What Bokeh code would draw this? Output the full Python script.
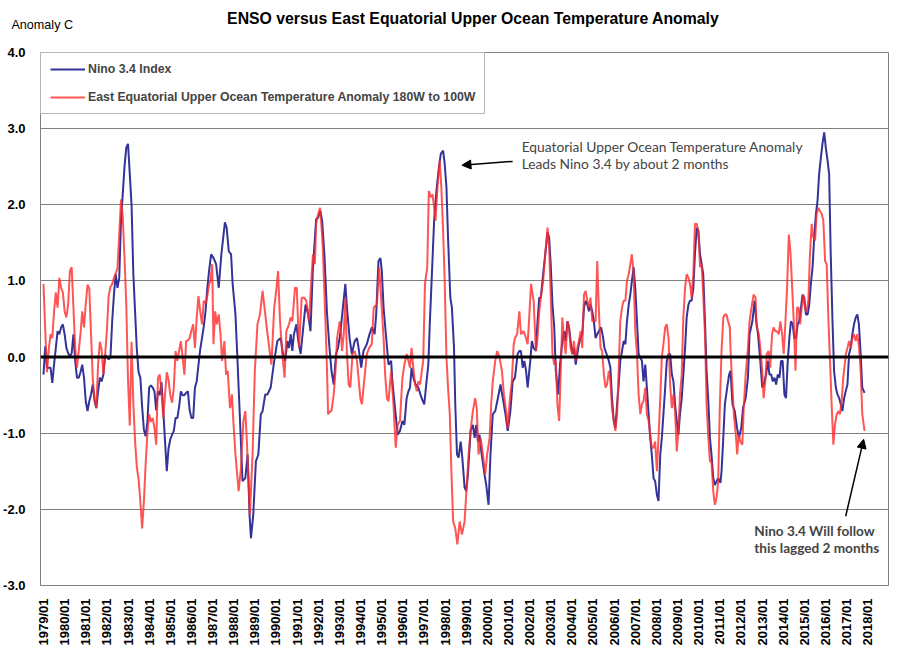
import math
from bokeh.plotting import figure
from bokeh.models import (ColumnDataSource, FixedTicker, NumeralTickFormatter, Span, Label,
                          Arrow, NormalHead, Legend, LegendItem)
from bokeh.embed import file_html
from bokeh.resources import INLINE

TITLE = "ENSO versus East Equatorial Upper Ocean Temperature Anomaly"
Y_LABEL = "Anomaly C"
NAME_NINO = "Nino 3.4 Index"
NAME_OCEAN = "East Equatorial Upper Ocean Temperature Anomaly 180W to 100W"
NOTE_LEAD = ["Equatorial Upper Ocean Temperature  Anomaly", "Leads Nino 3.4 by about 2 months"]
NOTE_LAG = ["Nino 3.4 Will follow", "this lagged 2 months"]

TICK_LABELS = ["1979/01", "1980/01", "1981/01", "1982/01", "1983/01", "1984/01", "1985/01",
               "1986/01", "1987/01", "1988/01", "1989/01", "1990/01", "1991/01", "1992/01",
               "1993/01", "1994/01", "1995/01", "1996/01", "1997/01", "1998/01", "1999/01",
               "2000/01", "2001/01", "2002/01", "2003/01", "2004/01", "2005/01", "2006/01",
               "2007/01", "2008/01", "2009/01", "2010/01", "2011/01", "2012/01", "2013/01",
               "2014/01", "2015/01", "2016/01", "2017/01", "2018/01"]
Y_TICKS = [-3, -2, -1, 0, 1, 2, 3, 4]

# time axis: months since 1979/01
# Nino 3.4, monthly 1979/01 .. 1986/11
NINO_1979_1986 = [-0.23, 0.14, -0.14, -0.14, -0.14, -0.34, -0.10, 0.12, 0.34, 0.30,
                  0.39, 0.43, 0.30, 0.12, 0.05, 0.01, 0.05, 0.30, -0.05, -0.27,
                  -0.27, -0.20, -0.10, -0.27, -0.58, -0.71, -0.58, -0.49, -0.36, -0.58,
                  -0.67, -0.45, -0.27, -0.32, -0.23, 0.03, 0.00, -0.03, -0.01, 0.47,
                  0.82, 1.09, 0.91, 1.04, 1.79, 2.14, 2.50, 2.75, 2.80, 2.40,
                  2.00, 1.10, 0.60, 0.10, -0.20, -0.27, -0.65, -0.95, -1.04, -0.85,
                  -0.40, -0.37, -0.40, -0.45, -0.70, -0.45, -0.50, -0.33, -0.70, -1.10,
                  -1.50, -1.20, -1.08, -1.02, -0.97, -0.80, -0.80, -0.65, -0.45, -0.50,
                  -0.50, -0.47, -0.45, -0.70, -0.80, -0.80, -0.40, -0.32, -0.10, 0.10,
                  0.25, 0.40, 0.60, 0.90, 1.13]
NINO_1987_1994 = [(95.2, 1.35), (96.6, 1.30), (98.0, 1.22), (99.5, 0.91), (101.0, 1.35), (103.0, 1.77),
                  (104.0, 1.70), (105.2, 1.39), (106.5, 1.35), (107.4, 0.96), (109.0, 0.56), (110.0, 0.04),
                  (111.6, -0.84), (113.0, -1.63), (114.6, -1.59), (115.9, -1.28), (117.0, -2.07), (117.8, -2.38),
                  (119.1, -2.07), (120.6, -1.37), (122.0, -1.28), (123.4, -0.75), (124.4, -0.71), (125.9, -0.49),
                  (127.2, -0.49), (129.0, -0.40), (131.0, -0.05), (132.8, 0.21), (134.7, 0.25), (136.0, 0.04),
                  (137.2, -0.05), (138.5, 0.21), (139.4, 0.12), (140.4, 0.30), (141.3, 0.08), (142.2, 0.30),
                  (143.6, 0.43), (144.7, 0.21), (146.0, 0.04), (147.5, 0.39), (148.8, 0.69), (150.3, 0.56),
                  (151.6, 0.34), (152.9, 1.13), (154.8, 1.81), (155.9, 1.83), (157.2, 1.92), (158.2, 1.79),
                  (159.5, 1.35), (161.0, 0.56), (162.4, 0.12), (163.5, -0.18), (164.8, -0.36), (166.1, 0.04),
                  (167.2, 0.12), (168.5, 0.30), (170.0, 0.65), (171.4, 0.96), (172.3, 0.65), (173.8, 0.25),
                  (175.1, 0.04), (176.7, 0.21), (178.0, 0.25), (178.9, 0.12), (180.4, -0.14), (181.7, 0.08),
                  (183.6, 0.17), (185.1, 0.30), (186.5, 0.39), (188.0, 0.30), (188.9, 0.56), (190.2, 1.26),
                  (191.3, 1.30)]
NINO_1995_2002 = [(192.1, 1.13), (193.1, 0.65), (194.4, 0.30), (195.9, -0.10), (197.4, -0.05), (198.1, -0.32),
                  (199.6, -0.67), (201.1, -1.02), (202.4, -0.97), (203.8, -0.84), (204.9, -0.89), (206.2, -0.54),
                  (207.2, -0.45), (208.1, -0.40), (209.0, -0.14), (210.0, -0.27), (211.3, -0.36), (212.8, -0.40),
                  (214.7, -0.54), (216.2, -0.62), (217.5, -0.32), (218.5, -0.10), (219.4, 0.47), (220.7, 1.18),
                  (221.8, 1.79), (223.1, 2.18), (224.5, 2.49), (225.6, 2.67), (226.9, 2.71), (227.8, 2.54),
                  (228.8, 2.23), (229.7, 1.57), (231.0, 0.78), (231.9, 0.65), (233.1, 0.12), (233.8, -0.62),
                  (234.8, -1.28), (235.7, -1.32), (236.9, -1.11), (237.8, -1.32), (239.1, -1.71), (240.0, -1.76),
                  (241.0, -1.54), (242.5, -0.97), (243.8, -0.89), (244.8, -1.06), (245.7, -0.89), (246.7, -1.11),
                  (247.6, -1.02), (248.6, -1.24), (250.4, -1.54), (251.4, -1.68), (252.7, -1.94), (253.8, -1.28),
                  (255.1, -0.75), (256.5, -0.71), (258.0, -0.54), (259.5, -0.36), (260.8, -0.54), (262.3, -0.75),
                  (263.6, -0.97), (265.1, -0.71), (266.4, -0.32), (267.7, -0.27), (269.2, 0.04), (270.2, 0.08),
                  (271.1, 0.08), (272.1, -0.14), (273.0, -0.05), (274.0, -0.18), (274.9, -0.40), (276.4, -0.05),
                  (277.3, 0.21), (278.3, 0.12), (279.6, 0.08), (280.5, 0.47), (281.5, 0.78), (282.4, 0.78),
                  (283.7, 1.09), (284.9, 1.35), (286.2, 1.64)]
NINO_2003_2010 = [(287.1, 1.57), (288.0, 1.22), (289.0, 0.69), (290.0, 0.39), (290.9, -0.18), (292.2, -0.49),
                  (293.3, -0.10), (294.6, 0.21), (295.6, 0.34), (296.5, 0.21), (297.5, 0.47), (298.4, 0.39),
                  (299.3, 0.21), (300.3, 0.04), (301.2, 0.12), (302.2, -0.10), (303.1, 0.04), (304.0, 0.17),
                  (305.0, 0.25), (305.9, 0.30), (306.9, 0.65), (307.8, 0.74), (308.8, 0.69), (309.7, 0.60),
                  (310.6, 0.69), (311.6, 0.60), (312.5, 0.47), (313.5, 0.25), (314.4, 0.30), (315.3, 0.34),
                  (316.6, 0.39), (317.8, 0.25), (318.5, 0.12), (319.7, 0.04), (321.0, -0.05), (321.9, -0.14),
                  (322.8, -0.54), (323.8, -0.84), (324.7, -0.93), (325.7, -0.62), (326.6, -0.36), (327.5, -0.05),
                  (328.5, 0.08), (329.4, 0.21), (330.4, 0.17), (331.3, 0.47), (332.3, 0.69), (333.2, 0.82),
                  (334.1, 1.00), (335.1, 1.18), (336.0, 0.91), (337.0, 0.47), (337.9, 0.04), (338.9, -0.01),
                  (339.8, -0.05), (340.7, -0.32), (341.7, -0.10), (342.6, -0.40), (343.6, -0.75), (344.5, -1.06),
                  (345.4, -1.28), (346.4, -1.59), (347.3, -1.63), (348.3, -1.81), (349.2, -1.89), (350.2, -1.28),
                  (351.1, -1.06), (352.0, -0.75), (353.0, -0.40), (353.9, -0.05), (354.9, 0.04), (355.8, 0.04),
                  (356.8, -0.23), (357.7, -0.32), (358.6, -0.62), (359.6, -0.84), (360.5, -1.02), (361.4, -0.75),
                  (362.4, -0.54), (363.3, -0.23), (364.3, 0.12), (365.2, 0.52), (366.2, 0.69), (367.1, 0.74),
                  (368.0, 0.74), (369.0, 0.91), (369.9, 1.35), (370.9, 1.70), (371.8, 1.66), (372.8, 1.35),
                  (373.7, 1.22), (374.6, 1.09), (375.6, 0.47), (376.5, -0.18), (377.5, -0.58), (378.4, -1.06),
                  (379.3, -1.28), (380.3, -1.59), (381.2, -1.68), (382.2, -1.63)]
NINO_2011_2017 = [(383.1, -1.59), (384.4, -1.65), (385.0, -1.50), (386.0, -1.06), (386.9, -0.62), (388.2, -0.40),
                  (389.3, -0.23), (390.1, -0.18), (391.2, -0.62), (392.5, -0.71), (393.8, -0.93), (394.9, -1.06),
                  (396.2, -0.93), (397.2, -0.67), (398.7, -0.54), (400.0, -0.27), (400.9, 0.30), (402.5, 0.47),
                  (403.8, 0.74), (404.7, 0.47), (405.7, 0.30), (407.0, -0.05), (408.1, -0.40), (409.0, -0.36),
                  (410.3, -0.23), (411.3, -0.05), (412.2, -0.23), (413.2, -0.23), (414.1, -0.32), (415.1, -0.27),
                  (416.0, -0.36), (416.9, -0.23), (417.9, -0.27), (418.8, -0.05), (419.7, -0.05), (420.7, -0.49),
                  (421.6, -0.54), (422.6, -0.05), (423.5, 0.25), (424.4, 0.47), (425.4, 0.43), (426.3, 0.25),
                  (427.3, 0.25), (428.2, 0.43), (429.1, 0.47), (430.1, 0.65), (431.0, 0.82), (432.0, 0.78),
                  (432.9, 0.56), (433.9, 0.56), (434.8, 0.69), (435.7, 0.96), (436.7, 1.18), (437.6, 1.57),
                  (438.6, 1.88), (439.5, 2.05), (440.4, 2.40), (441.4, 2.62), (442.3, 2.80), (443.3, 2.95),
                  (444.2, 2.75), (445.2, 2.58), (446.1, 2.40), (447.0, 1.35), (448.0, 0.47), (448.9, -0.18),
                  (449.9, -0.40), (450.8, -0.49), (451.8, -0.54), (452.7, -0.62), (453.6, -0.71), (454.6, -0.54),
                  (455.5, -0.45), (456.5, -0.36), (457.4, 0.04), (458.3, 0.12), (459.3, 0.30), (460.2, 0.43),
                  (461.2, 0.52), (462.1, 0.56), (463.0, 0.43), (464.0, 0.04), (464.9, -0.40), (466.2, -0.47)]

# East Equatorial upper ocean temperature anomaly, monthly 1979/01 .. 1986/11
OCEAN_1979_1986 = [0.96, 0.35, -0.20, 0.10, 0.30, 0.25, 0.60, 0.85, 0.65, 1.04,
                   0.91, 0.85, 0.60, 0.52, 0.69, 1.13, 1.18, 0.65, 0.12, -0.14,
                   0.08, 0.30, 0.60, 0.39, 0.70, 0.95, 0.90, 0.30, -0.30, -0.55,
                   -0.67, -0.10, 0.20, 0.10, -0.23, 0.03, 0.35, 0.80, 0.92, 0.96,
                   1.04, 1.10, 1.17, 1.60, 2.07, 1.85, 1.30, 0.70, -0.30, -0.90,
                   0.20, -0.60, -1.10, -1.45, -1.60, -1.90, -2.25, -1.90, -1.40, -1.00,
                   -0.75, -0.85, -0.80, -0.93, -1.15, -0.27, -0.23, -0.45, -0.80, -0.50,
                   -0.20, -0.30, -0.50, -0.60, -0.40, 0.08, -0.05, 0.08, 0.21, 0.00,
                   -0.23, 0.21, 0.22, 0.25, 0.35, 0.43, 0.12, 0.52, 0.80, 0.60,
                   0.43, 0.74, 0.70, 0.80, 0.95]
OCEAN_1987_1994 = [(94.8, 1.00), (95.8, 1.22), (96.5, 0.17), (97.5, 0.60), (98.4, 0.43), (99.5, 0.56),
                   (100.5, 0.30), (101.4, -0.05), (102.7, 0.21), (103.7, -0.23), (104.6, -0.18), (105.9, -0.67),
                   (107.0, -0.49), (107.8, -0.84), (109.0, -1.28), (110.8, -1.76), (112.1, -1.46), (113.5, -0.84),
                   (114.6, -0.71), (115.5, -1.11), (117.2, -2.07), (118.7, -1.28), (120.0, -0.18), (121.5, 0.43),
                   (122.9, 0.56), (124.4, 0.87), (125.3, 0.69), (127.2, 0.30), (129.4, -0.10), (131.0, 0.65),
                   (131.9, 0.82), (133.2, 1.13), (134.3, 0.47), (135.6, 0.04), (136.9, -0.27), (137.9, 0.34),
                   (139.4, 0.43), (140.3, 0.52), (141.3, 0.47), (142.8, 0.91), (143.8, 0.91), (145.1, 0.12),
                   (146.6, 0.78), (147.9, 0.78), (149.2, 0.74), (150.7, 0.47), (153.0, 1.35), (154.1, 1.22),
                   (154.8, 1.75), (156.0, 1.88), (157.0, 1.96), (157.9, 1.70), (158.6, 1.44), (160.1, 0.47),
                   (161.0, -0.18), (161.6, -0.75), (162.9, -0.71), (163.5, -0.71), (164.8, -0.49), (165.8, -0.18),
                   (166.7, 0.25), (168.2, 0.47), (169.0, 0.30), (169.5, 0.08), (170.5, 0.30), (171.4, 0.78),
                   (172.3, 0.04), (173.3, -0.36), (174.2, -0.40), (175.5, 0.04), (176.7, 0.08), (178.0, -0.05),
                   (179.9, -0.54), (180.8, -0.62), (181.7, -0.40), (183.6, 0.04), (184.9, 0.12), (186.4, 0.17),
                   (187.5, 0.65), (189.3, 0.69), (190.6, 1.18)]
OCEAN_1995_2002 = [(191.7, 0.78), (193.1, 0.25), (194.0, -0.23), (195.0, -0.54), (195.9, -0.58), (197.4, -0.18),
                   (198.7, -0.62), (200.0, -1.19), (201.1, -0.89), (202.4, -0.84), (203.8, -0.27), (204.9, -0.10),
                   (206.2, 0.04), (207.2, -0.05), (208.1, -0.14), (209.0, 0.12), (210.0, -0.14), (211.0, -0.36),
                   (212.0, -0.45), (212.8, -0.32), (213.8, -0.36), (215.6, -0.05), (216.6, 0.96), (217.9, 1.18),
                   (218.8, 2.18), (219.9, 2.10), (220.9, 2.14), (221.8, 1.96), (222.6, 1.79), (223.7, 2.23),
                   (225.0, 2.58), (225.9, 2.23), (226.9, 1.66), (227.8, 1.00), (228.8, 0.00), (229.7, -0.40),
                   (230.7, -0.75), (231.6, -1.50), (232.6, -2.16), (233.8, -2.25), (235.0, -2.46), (236.3, -2.16),
                   (237.6, -2.33), (239.1, -2.16), (240.0, -1.81), (241.4, -1.28), (242.5, -0.97), (243.8, -0.71),
                   (245.1, -0.54), (246.0, -0.67), (247.0, -1.28), (248.2, -1.06), (249.5, -1.28), (250.8, -1.54),
                   (251.9, -1.28), (253.3, -1.06), (254.2, -0.62), (255.1, -0.32), (256.5, -0.05), (257.6, 0.08),
                   (258.9, 0.00), (260.3, -0.18), (261.4, -0.49), (262.7, -0.71), (263.6, -0.93), (264.7, -0.58),
                   (265.9, -0.32), (267.0, 0.17), (267.7, 0.25), (268.9, 0.30), (270.2, 0.60), (271.1, 0.30),
                   (272.6, 0.34), (274.0, 0.25), (274.9, 0.17), (275.8, 0.52), (276.8, 0.96), (278.3, 0.74),
                   (279.6, 0.08), (280.5, 0.25), (281.5, 0.60), (282.4, 0.78), (283.7, 1.00), (284.9, 1.35),
                   (286.2, 1.70)]
OCEAN_2003_2010 = [(287.1, 1.44), (288.0, 0.82), (289.0, 0.04), (290.0, -0.10), (290.9, -0.05), (291.8, -0.62),
                   (292.8, -0.84), (293.7, -0.18), (294.6, 0.52), (295.6, 0.21), (296.5, 0.04), (297.5, 0.47),
                   (298.4, 0.39), (299.3, 0.12), (300.3, 0.04), (301.2, 0.21), (302.2, -0.05), (303.1, 0.12),
                   (304.0, 0.21), (305.0, 0.34), (305.9, 0.12), (306.9, 0.82), (307.8, 0.87), (308.8, 0.74),
                   (309.7, 0.65), (310.6, 0.78), (311.6, 0.47), (313.5, 0.47), (314.4, 1.26), (315.3, 0.65),
                   (316.3, 0.12), (317.2, 0.08), (318.2, -0.23), (319.1, -0.40), (320.0, -0.36), (321.0, -0.18),
                   (321.9, -0.32), (322.8, -0.67), (323.8, -0.84), (324.7, -0.97), (325.7, -0.75), (326.6, -0.18),
                   (327.5, 0.47), (328.5, 0.65), (329.4, 0.74), (330.4, 0.74), (331.3, 1.00), (332.3, 1.09),
                   (333.2, 1.22), (334.1, 1.35), (335.1, 1.09), (336.0, 0.34), (337.0, 0.04), (337.9, -0.49),
                   (338.9, -0.75), (339.8, -0.62), (340.7, -0.58), (341.7, -0.40), (342.6, -0.75), (343.6, -0.84),
                   (344.5, -1.02), (345.4, -1.19), (346.4, -1.19), (347.3, -1.11), (348.3, -1.50), (349.2, -1.06),
                   (350.2, -0.54), (351.1, 0.00), (352.0, 0.17), (353.0, 0.39), (353.9, 0.43), (354.9, 0.25),
                   (355.8, -0.36), (356.8, -0.67), (357.7, -0.49), (358.6, -0.71), (359.6, -1.24), (360.5, -0.97),
                   (361.4, -0.49), (362.4, -0.23), (363.3, 0.52), (364.3, 0.91), (365.2, 1.09), (366.2, 1.04),
                   (367.1, 0.96), (368.0, 0.78), (369.0, 1.09), (369.9, 1.75), (370.9, 1.75), (371.8, 1.66),
                   (372.8, 1.18), (373.7, 1.22), (374.6, 0.82), (375.6, 0.30), (376.5, -0.62), (377.5, -1.06),
                   (378.4, -1.37), (379.3, -1.37), (380.3, -1.76), (381.2, -1.94), (382.2, -1.84)]
OCEAN_2011_2017 = [(383.1, -1.63), (384.0, -0.67), (385.0, 0.08), (386.0, 0.52), (386.9, 0.56), (387.8, 0.56),
                   (388.7, 0.47), (389.7, 0.39), (390.2, 0.04), (391.2, -0.40), (392.0, -0.75), (393.1, -1.02),
                   (393.9, -1.28), (394.7, -1.02), (395.7, -1.11), (396.8, -1.15), (397.6, -0.67), (398.7, -0.23),
                   (400.0, 0.12), (400.9, 0.47), (402.0, 0.65), (403.2, 0.82), (404.3, 0.78), (405.0, 0.39),
                   (406.2, 0.30), (407.0, 0.12), (408.1, -0.18), (408.9, -0.54), (410.0, -0.27), (410.7, 0.04),
                   (411.7, 0.08), (412.6, -0.14), (413.7, 0.30), (414.5, 0.39), (415.6, 0.34), (416.4, 0.34),
                   (417.5, 0.30), (418.4, 0.47), (419.4, 0.30), (420.3, 0.04), (421.3, 0.47), (422.2, 0.91),
                   (423.2, 1.61), (424.1, 1.39), (425.1, 0.91), (426.0, 0.47), (427.0, -0.18), (427.9, 0.65),
                   (428.8, 0.65), (429.6, 0.43), (430.5, 0.65), (431.5, 0.82), (432.4, 0.65), (433.3, 0.60),
                   (434.3, 0.74), (435.2, 1.35), (436.2, 1.75), (437.1, 1.57), (438.1, 1.53), (439.0, 1.88),
                   (440.0, 1.96), (440.9, 1.92), (441.9, 1.88), (442.8, 1.79), (443.8, 1.26), (444.7, 1.22),
                   (445.7, 0.47), (446.6, -0.05), (447.5, -0.62), (448.5, -1.15), (449.4, -0.89), (450.4, -0.75),
                   (451.3, -0.71), (452.2, -0.75), (453.2, -0.58), (454.1, -0.27), (455.6, 0.04), (456.5, 0.12),
                   (457.4, 0.21), (458.4, 0.12), (459.3, 0.25), (460.2, 0.30), (461.2, 0.21), (462.1, 0.30),
                   (463.1, 0.12), (464.0, -0.18), (464.9, -0.75), (466.2, -0.97)]


def assemble(monthly, *segments):
    pts = [(float(i), v) for i, v in enumerate(monthly)]
    for seg in segments:
        pts.extend(seg)
    return dict(month=[p[0] for p in pts], value=[p[1] for p in pts])


nino_src = ColumnDataSource(assemble(NINO_1979_1986, NINO_1987_1994, NINO_1995_2002,
                                     NINO_2003_2010, NINO_2011_2017))
ocean_src = ColumnDataSource(assemble(OCEAN_1979_1986, OCEAN_1987_1994, OCEAN_1995_2002,
                                      OCEAN_2003_2010, OCEAN_2011_2017))

GRID = "#808080"
BLUE = "#333399"
RED = "#FF2A2A"
FONT = "Liberation Sans"

p = figure(width=900, height=660, x_range=(-1.7, 479.8), y_range=(-3, 4),
           output_backend="svg", toolbar_location=None,
           min_border_left=35, min_border_right=12, min_border_top=52, min_border_bottom=75,
           background_fill_color="white", border_fill_color="white",
           outline_line_color=GRID, outline_line_width=1)

# title and "Anomaly C" live in the top side panel (outside the plot frame)
p.add_layout(Label(x=244.0, y=4.45, text=TITLE, text_align="center", text_baseline="middle",
                   text_font=FONT, text_font_style="bold", text_font_size="15.8px",
                   text_color="black"), "above")
p.add_layout(Label(x=-18.2, y=4.36, text=Y_LABEL, text_align="left", text_baseline="middle",
                   text_font=FONT, text_font_size="12.6px", text_color="black"), "above")

tick_months = [12 * i for i in range(len(TICK_LABELS))]
p.xaxis.ticker = FixedTicker(ticks=tick_months)
p.xaxis.major_label_overrides = {m: lab for m, lab in zip(tick_months, TICK_LABELS)}
p.xaxis.major_label_orientation = math.pi / 2
p.xaxis.major_label_standoff = 7
p.yaxis.ticker = FixedTicker(ticks=Y_TICKS)
p.yaxis.formatter = NumeralTickFormatter(format="0.0")
p.yaxis.major_label_standoff = 9
for ax in (p.xaxis, p.yaxis):
    ax.axis_line_color = GRID
    ax.axis_line_width = 1
    ax.major_tick_line_color = None
    ax.minor_tick_line_color = None
    ax.major_label_text_font = FONT
    ax.major_label_text_font_style = "bold"
    ax.major_label_text_font_size = "13px"
    ax.major_label_text_color = "black"

p.xgrid.visible = False
p.ygrid.ticker = FixedTicker(ticks=Y_TICKS)
p.ygrid.grid_line_color = GRID
p.ygrid.grid_line_width = 1

p.add_layout(Span(location=0, dimension="width", line_color="black", line_width=3))

r_nino = p.line("month", "value", source=nino_src, line_color=BLUE, line_width=2)
r_ocean = p.line("month", "value", source=ocean_src, line_color=RED, line_alpha=0.8, line_width=2)

legend = Legend(items=[LegendItem(label=NAME_NINO, renderers=[r_nino]),
                       LegendItem(label=NAME_OCEAN, renderers=[r_ocean])],
                location="top_left", margin=0, padding=9, spacing=14,
                glyph_width=35, glyph_height=14, label_height=14, label_standoff=3,
                label_text_font=FONT, label_text_font_style="bold", label_text_font_size="12.3px",
                border_line_color="#6e6e6e", border_line_width=1.5,
                background_fill_color="white", background_fill_alpha=1.0)
p.add_layout(legend)

p.add_layout(Label(x=271.5, y=2.76, text=NOTE_LEAD[0], text_baseline="middle",
                   text_font="Lato", text_font_size="13.8px"))
p.add_layout(Label(x=271.5, y=2.54, text=NOTE_LEAD[1], text_baseline="middle",
                   text_font="Lato", text_font_size="13.8px"))
p.add_layout(Label(x=403.6, y=-2.28, text=NOTE_LAG[0], text_baseline="middle",
                   text_font="Lato", text_font_style="bold", text_font_size="13.6px"))
p.add_layout(Label(x=403.6, y=-2.51, text=NOTE_LAG[1], text_baseline="middle",
                   text_font="Lato", text_font_style="bold", text_font_size="13.6px"))

p.add_layout(Arrow(end=NormalHead(size=9, fill_color="black", line_color="black"),
                   x_start=266.4, y_start=2.57, x_end=237.6, y_end=2.52,
                   line_color="black", line_width=1.5))
p.add_layout(Arrow(end=NormalHead(size=9, fill_color="black", line_color="black"),
                   x_start=455.5, y_start=-2.09, x_end=465.7, y_end=-1.08,
                   line_color="black", line_width=1.5))

open("out.html", "w").write(file_html(p, INLINE, title=TITLE))
